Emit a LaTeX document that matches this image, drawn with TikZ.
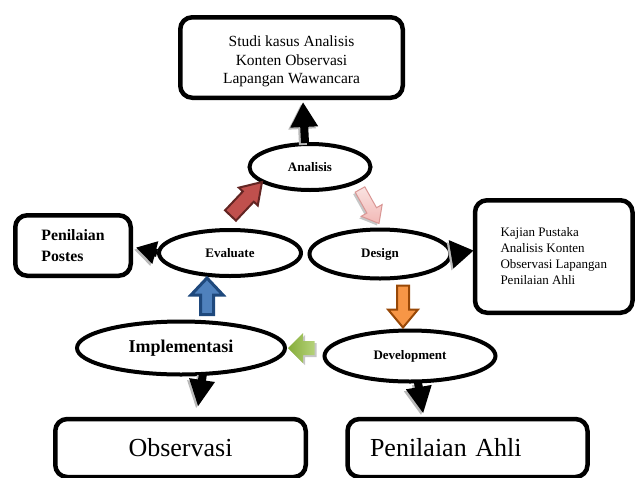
\documentclass[tikz,border=0pt]{standalone}
\usepackage{fontspec}
\setmainfont{Liberation Serif}
\usetikzlibrary{calc,shapes.geometric,arrows.meta}

\definecolor{redfill}{HTML}{C0504D}
\definecolor{redline}{HTML}{632523}
\definecolor{pinkfill}{HTML}{F2B8B5}
\definecolor{pinkline}{HTML}{D99694}
\definecolor{orangefill}{HTML}{F79646}
\definecolor{orangeline}{HTML}{984807}
\definecolor{greenlight}{HTML}{B5D27A}
\definecolor{greenfill}{HTML}{86AD3A}
\definecolor{bluefill}{HTML}{4F81BD}
\definecolor{blueline}{HTML}{1F497D}

% 块状箭头: 样式, 尾, 尖, 箭杆半宽, 箭头半宽, 箭头长
\newcommand{\blockarrow}[6]{%
  \coordinate (hb) at ($(#3)!#6!(#2)$);
  \draw[#1] ($(#2)!#4!90:(#3)$) -- ($(hb)!#4!-90:(#2)$) -- ($(hb)!#5!-90:(#2)$)
    -- (#3) -- ($(hb)!#5!90:(#2)$) -- ($(hb)!#4!90:(#2)$) -- ($(#2)!#4!-90:(#3)$) -- cycle;
}

\tikzset{
  ell/.style={ellipse, draw, line width=4pt, inner sep=0pt, font=\bfseries\fontsize{13}{15}\selectfont},
  box/.style={rectangle, draw, line width=4.5pt, rounded corners=12pt, inner sep=0pt},
  blkarr/.style={line width=8pt, -{Triangle[length=25pt,width=26pt]}},
  shadowarr/.style={blkarr, gray!55, transform canvas={shift={(-2pt,-2pt)}}},
}

\begin{document}
\begin{tikzpicture}[x=1pt, y=-1pt, line join=miter]

\useasboundingbox (0,0) rectangle (637,477);
\clip (0,0) rectangle (637,477);

% 椭圆节点
\node[ell, minimum width=121pt, minimum height=46pt] (ana) at (310,167) {Analisis};
\node[ell, minimum width=142pt, minimum height=46pt] (eval) at (230,253) {Evaluate};
\node[ell, minimum width=141pt, minimum height=49pt] (design) at (380,254) {Design};
\node[ell, minimum width=208pt, minimum height=53pt,
      font=\bfseries\fontsize{18}{20}\selectfont] (impl) at (181,348) {Implementasi};
\node[ell, minimum width=171pt, minimum height=51pt] (dev) at (410,356) {Development};

% 方框
\node[box, minimum width=222.5pt, minimum height=80.5pt, align=center, text height=56pt,
      font=\fontsize{15.5}{18.7}\selectfont] (top) at (291.5,57.5)
  {Studi kasus Analisis\\Konten Observasi\\Lapangan Wawancara};
\node[box, minimum width=115.5pt, minimum height=60.5pt, align=left,
      font=\bfseries\fontsize{15.8}{21}\selectfont] (postes) at (73,245.5)
  {Penilaian\\Postes};
\node[box, minimum width=157.5pt, minimum height=112.5pt, align=left,
      font=\fontsize{13}{16}\selectfont] (right) at (553.75,256.5)
  {Kajian Pustaka\\Analisis Konten\\Observasi Lapangan\\Penilaian Ahli};
\node[box, minimum width=250.5pt, minimum height=58pt,
      font=\fontsize{26}{30}\selectfont] (obs) at (180.5,448) {Observasi};
\node[box, minimum height=58pt, text width=195pt, inner xsep=22.5pt, align=left,
      font=\fontsize{26}{30}\selectfont] (ahli) at (467.5,448) {Penilaian Ahli};

% 黑色箭头
\coordinate (t1) at ($(ana.north)+(-5,1)$);
\coordinate (h1) at ($(top.south)+(11.5,2)$);
\coordinate (h2) at ($(postes.east)+(3,2)$);
\coordinate (h3) at ($(right.west)+(1,-6)$);
\coordinate (t4) at ($(impl.south)+(22,-3)$);
\coordinate (h4) at ($(obs.north)+(17.5,-10)$);
\coordinate (t5) at ($(dev.south)+(8,-1)$);
\coordinate (h5) at ($(ahli.north west)+(78,-3)$);

\draw[shadowarr] (t1) -- (h1);
\draw[blkarr] (t1) -- (h1);
\draw[shadowarr, -{Triangle[length=20pt,width=22pt]}] (eval.west) -- (h2);
\draw[blkarr, -{Triangle[length=20pt,width=22pt]}] (eval.west) -- (h2);
\draw[shadowarr, -{Triangle[length=23pt,width=27pt]}] (design.east) -- (h3);
\draw[blkarr, -{Triangle[length=23pt,width=27pt]}] (design.east) -- (h3);
\draw[shadowarr, -{Triangle[length=27pt,width=24pt]}] (t4) -- (h4);
\draw[blkarr, -{Triangle[length=27pt,width=24pt]}] (t4) -- (h4);
\draw[shadowarr, -{Triangle[length=27pt,width=24pt]}] (t5) -- (h5);
\draw[blkarr, -{Triangle[length=27pt,width=24pt]}] (t5) -- (h5);

% 彩色箭头
\coordinate (redT) at ($(eval.north)+(0.5,-12.5)$);
\coordinate (redH) at ($(ana.center)+(-48,15)$);
\coordinate (pinkT) at ($(ana.center)+(50,22.5)$);
\coordinate (pinkH) at ($(design.north)+(-1,-4)$);
\coordinate (orangeT) at ($(design.south)+(23,5)$);
\coordinate (orangeH) at ($(dev.north)+(-7,-1)$);
\coordinate (greenT) at ($(dev.west)+(-8,-8)$);
\coordinate (greenH) at ($(impl.east)+(1,0)$);
\coordinate (blueT) at ($(impl.north)+(26,-5)$);
\coordinate (blueH) at ($(eval.south)+(-23,0)$);

\blockarrow{fill=redfill, draw=redline, line width=2pt}{redT}{redH}{7.5pt}{13pt}{20pt}
\blockarrow{fill=gray!45, draw=none, transform canvas={shift={(-2pt,-2pt)}}}{pinkT}{pinkH}{5.5pt}{12pt}{15pt}
\blockarrow{top color=pinkfill!40, bottom color=pinkfill, draw=pinkline, line width=1pt}{pinkT}{pinkH}{5.5pt}{12pt}{15pt}
\blockarrow{fill=orangefill, draw=orangeline, line width=2pt}{orangeT}{orangeH}{6pt}{15pt}{18pt}
\blockarrow{fill=gray!45, draw=none, transform canvas={shift={(2pt,-2pt)}}}{greenT}{greenH}{7pt}{15pt}{15pt}
\blockarrow{left color=greenfill, right color=greenlight, draw=none}{greenT}{greenH}{7pt}{15pt}{15pt}
\blockarrow{fill=bluefill, draw=blueline, line width=3pt}{blueT}{blueH}{6.5pt}{16pt}{17pt}

\end{tikzpicture}
\end{document}
